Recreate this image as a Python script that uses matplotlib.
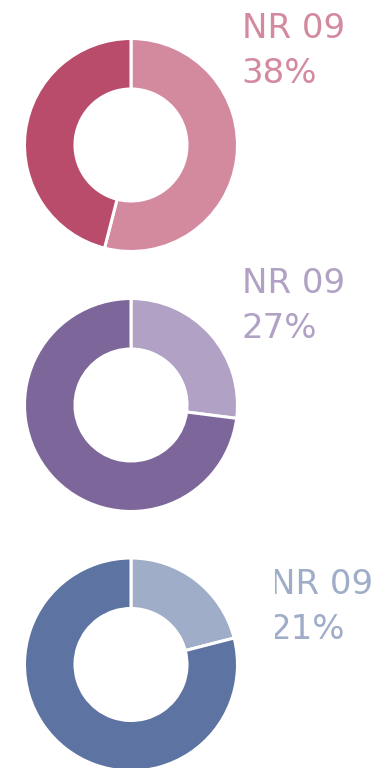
import matplotlib.pyplot as plt
from matplotlib.patches import Rectangle

# share of the light slice in each ring (percent) and the caption figures
light_share = [54, 27, 21]
label_pct = [38, 27, 21]
label_name = ["NR 09", "NR 09", "NR 09"]

light_colors = ["#D38A9F", "#B1A2C5", "#9FADC8"]
dark_colors = ["#B84C6A", "#7D6699", "#5D73A2"]

W, H = 377, 768


def draw_ring(ax, cx, cy, share, light, dark):
    ax.pie([share, 100 - share], colors=[light, dark], startangle=90,
           counterclock=False, center=(cx, cy), radius=106.5,
           wedgeprops=dict(width=50.5, edgecolor="white", linewidth=2.2))


def main():
    fig = plt.figure(figsize=(W / 100, H / 100), dpi=100)
    ax = fig.add_axes([0, 0, 1, 1])

    centers = [(131, H - 145), (131, H - 405), (131, H - 664.5)]
    text_pos = [(241.5, H - 38), (241.5, H - 293), (269.5, H - 594)]

    for i in range(3):
        cx, cy = centers[i]
        draw_ring(ax, cx, cy, light_share[i], light_colors[i], dark_colors[i])
        tx, ty = text_pos[i]
        for j, line in enumerate([label_name[i], "%d%%" % label_pct[i]]):
            t = ax.text(tx, ty - j * 45, line, color=light_colors[i],
                        fontsize=24.5, family="DejaVu Sans", fontweight=300,
                        va="baseline", ha="left")
            if i == 2:
                # last caption is cut at the left edge of its box
                box = Rectangle((274.5, 0), W - 274.5, H, transform=ax.transData)
                t.set_clip_on(True)
                t.set_clip_path(box)

    ax.set_xlim(0, W)
    ax.set_ylim(0, H)
    ax.set_aspect("equal")
    ax.axis("off")
    fig.savefig("out.png", dpi=100)


if __name__ == "__main__":
    main()
